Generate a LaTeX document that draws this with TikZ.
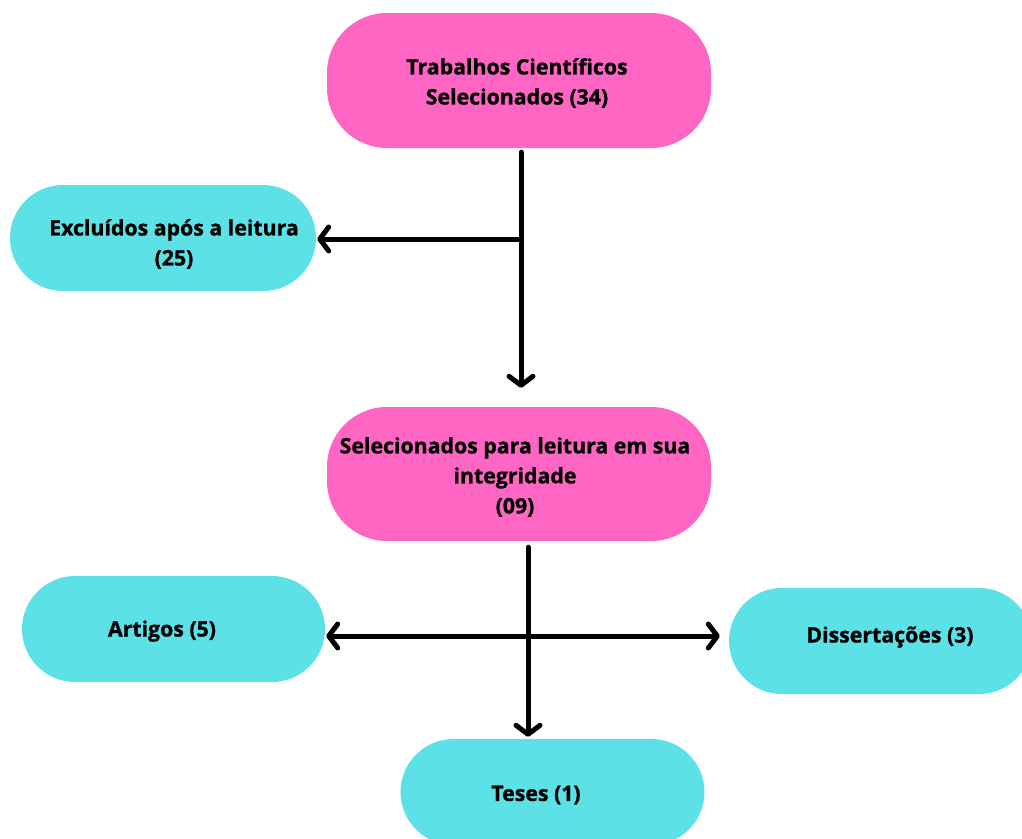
\documentclass[tikz,border=0pt]{standalone}
\usepackage{fontspec}
\setmainfont{Open Sans}[BoldFeatures={FakeBold=1}]
\usetikzlibrary{arrows.meta}
\definecolor{pinkc}{HTML}{FF66C4}
\definecolor{cyanc}{HTML}{5CE1E6}
\tikzset{
  stadium/.style={draw=none, rounded corners=#1, inner sep=0pt},
  stadium/.default=53pt,
  label text/.style={align=center, font=\fontsize{21.3}{30}\selectfont\bfseries, text=black, inner sep=0pt},
  flow/.style={line width=5pt, line cap=round, line join=round,
    -{Straight Barb[length=9pt,width=24pt,line cap=round,line join=round]}}
}
\begin{document}
\begin{tikzpicture}[x=1pt,y=-1pt]
  \clip (0,0) rectangle (1022,838);
  \useasboundingbox (0,0) rectangle (1022,838);

  % boxes
  \node[stadium=60pt, fill=pinkc, minimum width=384pt, minimum height=135pt] (top) at (519,80.5) {};
  \node[stadium, fill=cyanc, minimum width=306pt, minimum height=106pt] (excl) at (163,238) {};
  \node[stadium=60pt, fill=pinkc, minimum width=384pt, minimum height=134pt] (mid) at (519,474) {};
  \node[stadium, fill=cyanc, minimum width=303pt, minimum height=106pt] (art) at (173.5,629) {};
  \node[stadium, fill=cyanc, minimum width=303pt, minimum height=106pt] (dis) at (880.5,641) {};
  \node[stadium, fill=cyanc, minimum width=304pt, minimum height=106pt] (tes) at (552.5,792) {};

  % texts
  \node[label text] (top-t) at (517,83) {Trabalhos Científicos\\ Selecionados (34)};
  \node[label text] (excl-t) at (174,244) {Excluídos após a leitura\\(25)};
  \node[label text] (mid-t) at (515,477) {Selecionados para leitura em sua\\integridade\\(09)};
  \node[label text] (art-t) at (162,631) {Artigos (5)};
  \node[label text] (dis-t) at (890,637) {Dissertações (3)};
  \node[label text] (tes-t) at (536,795) {Teses (1)};

  % junction points on the trunks
  \coordinate (j1) at (521,239);
  \coordinate (j2) at (528,636);

  % connectors (yshift acts upwards on the page)
  \draw[flow] ([xshift=2pt,yshift=-4pt]top.south) -- ([xshift=2pt,yshift=19pt]mid.north);
  \draw[flow] (j1) -- ([xshift=1pt]excl.east |- j1);
  \draw[flow] ([xshift=9pt,yshift=-6pt]mid.south) -- ([xshift=-24.5pt,yshift=2pt]tes.north);
  \draw[flow] (j2) -- ([xshift=1pt]art.east |- j2);
  \draw[flow] (j2) -- ([xshift=-9pt]dis.west |- j2);
\end{tikzpicture}
\end{document}
